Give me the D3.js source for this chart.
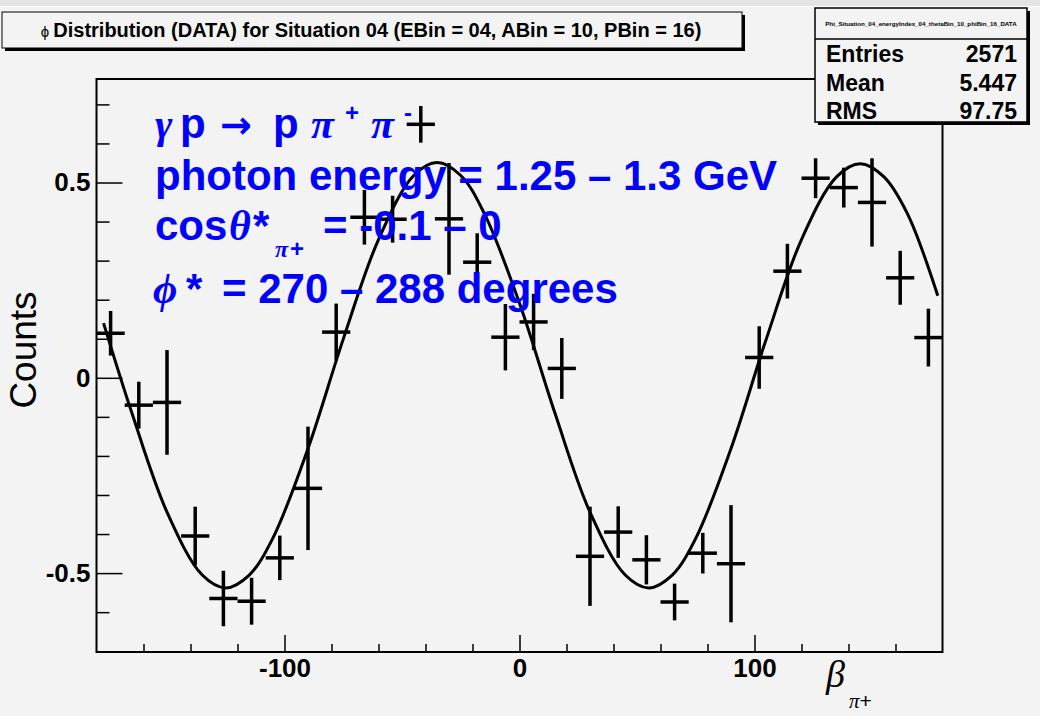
<!DOCTYPE html>
<html>
<head>
<meta charset="utf-8">
<script src="https://cdn.jsdelivr.net/npm/d3@7"></script>
<style>
  body { margin: 0; background: #f3f3f3; }
  svg { display: block; }
</style>
</head>
<body>
<div id="chart"></div>
<script>
// phi bins (12 deg wide) and the measured values with their errors
const binCenters = [-174, -162, -150, -138, -126, -114, -102, -90, -78, -66, -54, -42, -30, -18, -6,
                    6, 18, 30, 42, 54, 66, 78, 90, 102, 114, 126, 138, 150, 162, 174];
const counts = [0.114, -0.070, -0.063, -0.405, -0.565, -0.572, -0.461, -0.283, 0.117, 0.411, 0.406, 0.649, 0.407, 0.296, 0.104,
                0.143, 0.024, -0.457, -0.395, -0.466, -0.574, -0.449, -0.476, 0.052, 0.273, 0.511, 0.487, 0.449, 0.256, 0.103];
const errors = [0.057, 0.060, 0.134, 0.075, 0.071, 0.060, 0.057, 0.158, 0.073, 0.070, 0.060, 0.047, 0.143, 0.074, 0.085,
                0.072, 0.078, 0.127, 0.066, 0.063, 0.047, 0.052, 0.150, 0.080, 0.070, 0.051, 0.051, 0.113, 0.069, 0.074];
const binHalfWidth = 6;

// fit curve
const fitPhi = [-177, -165, -150, -135, -125, -115, -105, -90, -75, -60, -45, -35, -25, -15, 0,
                15, 30, 45, 55, 65, 75, 90, 105, 120, 135, 145, 155, 165, 178];
const fitVal = [0.140, -0.089, -0.344, -0.505, -0.538, -0.505, -0.411, -0.181, 0.099, 0.354, 0.518, 0.551, 0.518, 0.421, 0.191,
                -0.089, -0.344, -0.505, -0.538, -0.505, -0.411, -0.181, 0.099, 0.354, 0.515, 0.548, 0.515, 0.421, 0.210];

const xMajorTicks = [-100, 0, 100];
const xMinorTicks = [-160, -140, -120, -80, -60, -40, -20, 20, 40, 60, 80, 120, 140, 160];
const yMajorTicks = [-0.5, 0, 0.5];
const yMinorTicks = [-0.7, -0.6, -0.4, -0.3, -0.2, -0.1, 0.1, 0.2, 0.3, 0.4, 0.6, 0.7];

const titleText = "Distribution (DATA) for Situation 04 (EBin = 04, ABin = 10, PBin = 16)";
const statsName = "Phi_Situation_04_energyIndex_04_thetaBin_10_phiBin_16_DATA";
const statsLabels = ["Entries", "Mean", "RMS"];
const statsValues = ["2571", "5.447", "97.75"];

const W = 1040, H = 716;
const sans = "'Liberation Sans', Arial, sans-serif";
const serif = "'Liberation Serif', 'Times New Roman', serif";
const blue = "#0000ff";

var svg = d3.select("#chart")
    .append("svg")
    .attr("width", W)
    .attr("height", H);

svg.append("rect").attr("width", W).attr("height", H).attr("fill", "#f3f3f3");
svg.append("rect").attr("width", W).attr("height", 6).attr("fill", "#e4e4e4");
svg.append("line").attr("x1", 0).attr("x2", W).attr("y1", 6.5).attr("y2", 6.5)
    .attr("stroke", "#ffffff").attr("stroke-width", 1);

const x = d3.scaleLinear().domain([-180, 180]).range([96.5, 942.5]);
const y = d3.scaleLinear().domain([-0.702, 0.765]).range([652, 79]);

// plain hyphen minus like ROOT
const fmt = d => String(d);

// axes ticks (drawn inward like ROOT)
const gy = svg.append("g").attr("transform", "translate(96.5,0)");
gy.call(d3.axisLeft(y).tickValues(yMajorTicks).tickSizeInner(-26).tickSizeOuter(0)
    .tickPadding(6).tickFormat(fmt));
gy.append("g").call(d3.axisLeft(y).tickValues(yMinorTicks).tickSizeInner(-13).tickSizeOuter(0).tickFormat(""));
gy.selectAll(".domain").remove();
gy.selectAll("line").attr("stroke", "#000").attr("stroke-width", 1.5);
gy.selectAll("text")
    .attr("font-family", sans).attr("font-weight", "bold").attr("font-size", 26)
    .attr("fill", "#000").attr("x", -6);

const gx = svg.append("g").attr("transform", "translate(0,652)");
gx.call(d3.axisBottom(x).tickValues(xMajorTicks).tickSizeInner(-17).tickSizeOuter(0).tickFormat(fmt));
gx.append("g").call(d3.axisBottom(x).tickValues(xMinorTicks).tickSizeInner(-8).tickSizeOuter(0).tickFormat(""));
gx.selectAll(".domain").remove();
gx.selectAll("line").attr("stroke", "#000").attr("stroke-width", 1.5);
gx.selectAll("text")
    .attr("font-family", sans).attr("font-weight", "bold").attr("font-size", 26)
    .attr("fill", "#000").attr("y", 7);

// frame
svg.append("rect")
    .attr("x", 96.5).attr("y", 79)
    .attr("width", 846).attr("height", 573)
    .attr("fill", "none").attr("stroke", "#000").attr("stroke-width", 2);

// fit curve
svg.append("path")
    .datum(fitPhi.map((p, i) => [p, fitVal[i]]))
    .attr("fill", "none")
    .attr("stroke", "#000")
    .attr("stroke-width", 3)
    .attr("d", d3.line().x(d => x(d[0])).y(d => y(d[1])).curve(d3.curveCatmullRom));

// data points with error bars
const pts = svg.append("g").attr("stroke", "#000").attr("stroke-width", 3.5);
binCenters.forEach(function (c, i) {
    pts.append("line")
        .attr("x1", x(c)).attr("x2", x(c))
        .attr("y1", y(counts[i] - errors[i])).attr("y2", y(counts[i] + errors[i]));
    pts.append("line")
        .attr("x1", x(c - binHalfWidth)).attr("x2", x(c + binHalfWidth))
        .attr("y1", y(counts[i])).attr("y2", y(counts[i]));
});

// axis titles
svg.append("text")
    .attr("transform", "translate(36,350) rotate(-90)")
    .attr("text-anchor", "middle")
    .attr("font-family", sans).attr("font-size", 37).attr("fill", "#000")
    .text("Counts");
svg.append("text")
    .attr("x", 826).attr("y", 687)
    .attr("font-family", serif).attr("font-style", "italic").attr("font-size", 38).attr("fill", "#000")
    .text("β");
var sub = svg.append("text").attr("x", 849).attr("y", 708).attr("font-size", 21).attr("fill", "#000");
sub.append("tspan").attr("font-family", serif).attr("font-style", "italic").text("π");
sub.append("tspan").attr("font-family", sans).text("+");

// title box
svg.append("rect").attr("x", 5).attr("y", 15).attr("width", 740).attr("height", 36).attr("fill", "#000");
svg.append("rect").attr("x", 2).attr("y", 12).attr("width", 740).attr("height", 36)
    .attr("fill", "#f3f3f3").attr("stroke", "#000").attr("stroke-width", 1);
var title = svg.append("text")
    .attr("x", 371).attr("y", 37)
    .attr("text-anchor", "middle")
    .attr("font-family", sans).attr("font-size", 20).attr("fill", "#000");
title.append("tspan").attr("font-size", 15).text("ϕ ");
title.append("tspan").attr("font-weight", "bold").text(titleText);

// stats box
svg.append("rect").attr("x", 818).attr("y", 11).attr("width", 212).attr("height", 114).attr("fill", "#000");
svg.append("rect").attr("x", 815).attr("y", 8).attr("width", 212).attr("height", 114)
    .attr("fill", "#f3f3f3").attr("stroke", "#000").attr("stroke-width", 1.5);
svg.append("line").attr("x1", 815).attr("x2", 1027).attr("y1", 39).attr("y2", 39)
    .attr("stroke", "#000").attr("stroke-width", 1.5);
svg.append("text")
    .attr("x", 921).attr("y", 26).attr("text-anchor", "middle")
    .attr("font-family", sans).attr("font-weight", "bold").attr("font-size", 6.2).attr("fill", "#000")
    .text(statsName);
var sy = [62, 91, 119];
for (var k = 0; k < statsLabels.length; k++) {
    svg.append("text")
        .attr("x", 826).attr("y", sy[k])
        .attr("font-family", sans).attr("font-weight", "bold").attr("font-size", 23).attr("fill", "#000")
        .text(statsLabels[k]);
    svg.append("text")
        .attr("x", 1017).attr("y", sy[k]).attr("text-anchor", "end")
        .attr("font-family", sans).attr("font-weight", "bold").attr("font-size", 23).attr("fill", "#000")
        .text(statsValues[k]);
}

// blue annotation
const ann = svg.append("g").attr("fill", blue).attr("font-weight", "bold").attr("font-size", 42);
function piece(px, py, str, font, size) {
    var t = ann.append("text").attr("x", px).attr("y", py)
        .attr("font-family", font === "greek" ? serif : font === "arrow" ? "'DejaVu Sans', sans-serif" : sans)
        .text(str);
    if (font === "greek") t.attr("font-style", "italic");
    if (size) t.attr("font-size", size);
    return t;
}
// line 1
piece(155, 138, "γ", "greek");
piece(180, 138, "p");
piece(220, 138, "→", "arrow", 38);
piece(273, 138, "p");
piece(311, 138, "π", "greek");
piece(345, 121, "+", null, 24);
piece(371, 138, "π", "greek");
piece(404, 121, "-", null, 24);
// line 2
piece(155, 190, "photon energy = 1.25 – 1.3 GeV");
// line 3
piece(155, 240, "cos");
piece(229, 240, "θ", "greek");
piece(253, 240, "*");
piece(275, 257, "π", "greek", 24);
piece(290, 257, "+", null, 24);
piece(323, 240, "= -0.1 – 0");
// line 4
piece(153, 303, "ϕ", "greek");
piece(186, 303, "*");
piece(222, 303, "= 270 – 288 degrees");
</script>
</body>
</html>
